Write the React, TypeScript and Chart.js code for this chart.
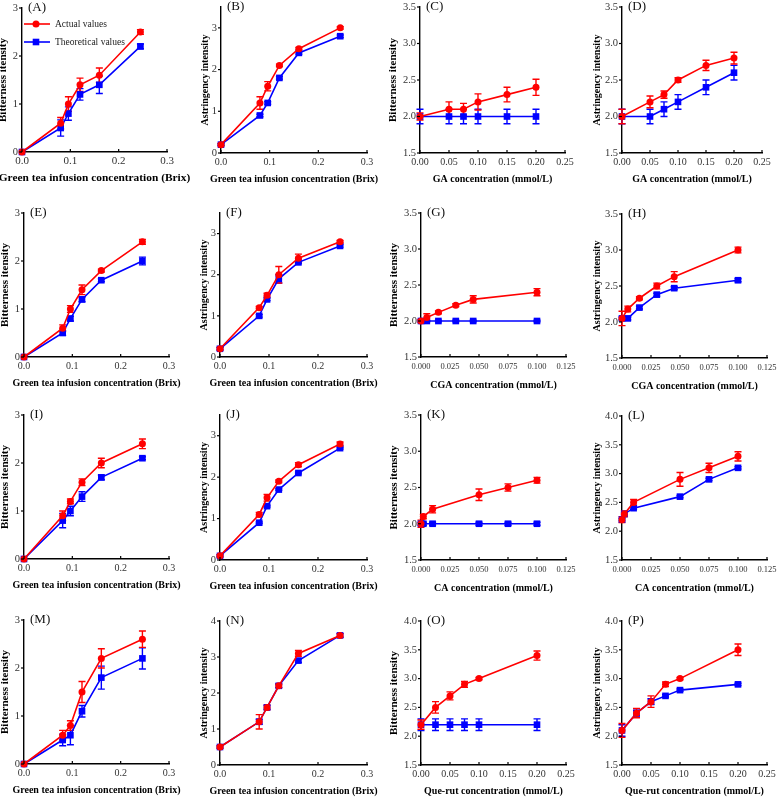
import React, { useEffect, useRef } from "react";
import { Chart, registerables } from "chart.js";

Chart.register(...registerables);

const FONT = "'Liberation Serif', 'Times New Roman', serif";
const RED = "#ff0000";
const BLUE = "#0000ff";

// ---------- x values ----------
const brixX = [0, 0.08, 0.096, 0.12, 0.16, 0.245];
const gaX = [0, 0.05, 0.075, 0.1, 0.15, 0.2];
const cgaX = [0, 0.005, 0.015, 0.03, 0.045, 0.1];
const caX = [0, 0.002, 0.01, 0.05, 0.075, 0.1];
const queRutX = [0, 0.025, 0.05, 0.075, 0.1, 0.2];

// ---------- tick values ----------
const brixTicks = [0, 0.1, 0.2, 0.3];
const mmol25Ticks = [0, 0.05, 0.1, 0.15, 0.2, 0.25];
const mmol125Ticks = [0, 0.025, 0.05, 0.075, 0.1, 0.125];
const int3Ticks = [0, 1, 2, 3];
const int4Ticks = [0, 1, 2, 3, 4];
const half35Ticks = [1.5, 2.0, 2.5, 3.0, 3.5];
const half40Ticks = [1.5, 2.0, 2.5, 3.0, 3.5, 4.0];

const legendLabels = ["Actual values", "Theoretical values"];

// ---------- series (Actual / Theoretical, with error bars) ----------
const aAct = [0, 0.6, 1.0, 1.4, 1.6, 2.5];
const aActErr = [0, 0.12, 0.15, 0.14, 0.15, 0.05];
const aTheo = [0, 0.5, 0.8, 1.2, 1.4, 2.2];
const aTheoErr = [0, 0.17, 0.14, 0.12, 0.18, 0.05];

const bAct = [0.2, 1.2, 1.6, 2.1, 2.5, 3.0];
const bActErr = [0.03, 0.15, 0.11, 0.03, 0.03, 0.03];
const bTheo = [0.2, 0.9, 1.2, 1.8, 2.4, 2.8];
const bTheoErr = [0.02, 0.03, 0.03, 0.03, 0.03, 0.03];

const cAct = [2.0, 2.1, 2.1, 2.2, 2.3, 2.4];
const cActErr = [0.05, 0.1, 0.08, 0.11, 0.1, 0.11];
const cTheo = [2.0, 2.0, 2.0, 2.0, 2.0, 2.0];
const cTheoErr = [0.1, 0.1, 0.1, 0.1, 0.1, 0.1];

const dAct = [2.0, 2.2, 2.3, 2.5, 2.7, 2.8];
const dActErr = [0.1, 0.08, 0.05, 0.03, 0.07, 0.08];
const dTheo = [2.0, 2.0, 2.1, 2.2, 2.4, 2.6];
const dTheoErr = [0.1, 0.1, 0.1, 0.1, 0.1, 0.1];

const eAct = [0, 0.6, 1.0, 1.4, 1.8, 2.4];
const eActErr = [0, 0.07, 0.07, 0.1, 0.03, 0.05];
const eTheo = [0, 0.5, 0.8, 1.2, 1.6, 2.0];
const eTheoErr = [0, 0.05, 0.05, 0.05, 0.03, 0.08];

const fAct = [0.2, 1.2, 1.5, 2.0, 2.4, 2.8];
const fActErr = [0.03, 0.03, 0.05, 0.2, 0.1, 0.03];
const fTheo = [0.2, 1.0, 1.4, 1.9, 2.3, 2.7];
const fTheoErr = [0.03, 0.03, 0.03, 0.1, 0.03, 0.03];

const gAct = [2.0, 2.05, 2.12, 2.22, 2.3, 2.4];
const gActErr = [0.02, 0.05, 0.02, 0.02, 0.05, 0.05];
const gTheo = [2.0, 2.0, 2.0, 2.0, 2.0, 2.0];
const gTheoErr = [0.01, 0.01, 0.01, 0.01, 0.01, 0.01];

const hAct = [2.05, 2.18, 2.33, 2.5, 2.63, 3.0];
const hActErr = [0.1, 0.04, 0.02, 0.04, 0.07, 0.04];
const hTheo = [2.05, 2.05, 2.2, 2.38, 2.47, 2.58];
const hTheoErr = [0.02, 0.02, 0.02, 0.02, 0.02, 0.02];

const iAct = [0, 0.9, 1.2, 1.6, 2.0, 2.4];
const iActErr = [0, 0.1, 0.05, 0.07, 0.1, 0.1];
const iTheo = [0, 0.8, 1.0, 1.3, 1.7, 2.1];
const iTheoErr = [0, 0.15, 0.1, 0.1, 0.05, 0.03];

const jAct = [0.1, 1.1, 1.5, 1.9, 2.3, 2.8];
const jActErr = [0.03, 0.05, 0.08, 0.03, 0.05, 0.05];
const jTheo = [0.1, 0.9, 1.3, 1.7, 2.1, 2.7];
const jTheoErr = [0.02, 0.02, 0.02, 0.02, 0.02, 0.02];

const kAct = [2.0, 2.1, 2.2, 2.4, 2.5, 2.6];
const kActErr = [0.05, 0.03, 0.05, 0.08, 0.05, 0.04];
const kTheo = [2.0, 2.0, 2.0, 2.0, 2.0, 2.0];
const kTheoErr = [0.02, 0.02, 0.02, 0.02, 0.02, 0.02];

const lAct = [2.2, 2.3, 2.5, 2.9, 3.1, 3.3];
const lActErr = [0.05, 0.05, 0.05, 0.12, 0.08, 0.08];
const lTheo = [2.2, 2.3, 2.4, 2.6, 2.9, 3.1];
const lTheoErr = [0.02, 0.02, 0.02, 0.02, 0.02, 0.02];

const mAct = [0, 0.6, 0.8, 1.5, 2.2, 2.6];
const mActErr = [0, 0.1, 0.1, 0.22, 0.2, 0.17];
const mTheo = [0, 0.5, 0.6, 1.1, 1.8, 2.2];
const mTheoErr = [0, 0.12, 0.2, 0.12, 0.24, 0.22];

const nAct = [0.5, 1.2, 1.6, 2.2, 3.1, 3.6];
const nActErr = [0.03, 0.2, 0.07, 0.05, 0.08, 0.05];
const nTheo = [0.5, 1.2, 1.6, 2.2, 2.9, 3.6];
const nTheoErr = [0.03, 0.07, 0.05, 0.05, 0.05, 0.05];

const oAct = [2.2, 2.5, 2.7, 2.9, 3.0, 3.4];
const oActErr = [0.08, 0.1, 0.07, 0.05, 0.02, 0.08];
const oTheo = [2.2, 2.2, 2.2, 2.2, 2.2, 2.2];
const oTheoErr = [0.1, 0.1, 0.1, 0.1, 0.1, 0.1];

const pAct = [2.1, 2.4, 2.6, 2.9, 3.0, 3.5];
const pActErr = [0.12, 0.08, 0.1, 0.04, 0.02, 0.1];
const pTheo = [2.1, 2.4, 2.6, 2.7, 2.8, 2.9];
const pTheoErr = [0.1, 0.05, 0.05, 0.02, 0.02, 0.02];

const BRIX_TITLE = "Green tea infusion concentration (Brix)";
const BIT = "Bitterness itensity";
const AST = "Astringency intensity";

type Spec = {
  label: string;
  x: number[];
  act: number[];
  actErr: number[];
  theo: number[];
  theoErr: number[];
  xMax: number;
  xTicks: number[];
  xDec: number;
  xTitle: string;
  yMin: number;
  yMax: number;
  yTicks: number[];
  yDec: number;
  yTitle: string;
};

const specs: Spec[] = [
  { label: "(A)", x: brixX, act: aAct, actErr: aActErr, theo: aTheo, theoErr: aTheoErr, xMax: 0.3, xTicks: brixTicks, xDec: 1, xTitle: BRIX_TITLE, yMin: 0, yMax: 3, yTicks: int3Ticks, yDec: 0, yTitle: BIT },
  { label: "(B)", x: brixX, act: bAct, actErr: bActErr, theo: bTheo, theoErr: bTheoErr, xMax: 0.3, xTicks: brixTicks, xDec: 1, xTitle: BRIX_TITLE, yMin: 0, yMax: 3.5, yTicks: int3Ticks, yDec: 0, yTitle: AST },
  { label: "(C)", x: gaX, act: cAct, actErr: cActErr, theo: cTheo, theoErr: cTheoErr, xMax: 0.25, xTicks: mmol25Ticks, xDec: 2, xTitle: "GA concentration (mmol/L)", yMin: 1.5, yMax: 3.5, yTicks: half35Ticks, yDec: 1, yTitle: BIT },
  { label: "(D)", x: gaX, act: dAct, actErr: dActErr, theo: dTheo, theoErr: dTheoErr, xMax: 0.25, xTicks: mmol25Ticks, xDec: 2, xTitle: "GA concentration (mmol/L)", yMin: 1.5, yMax: 3.5, yTicks: half35Ticks, yDec: 1, yTitle: AST },
  { label: "(E)", x: brixX, act: eAct, actErr: eActErr, theo: eTheo, theoErr: eTheoErr, xMax: 0.3, xTicks: brixTicks, xDec: 1, xTitle: BRIX_TITLE, yMin: 0, yMax: 3, yTicks: int3Ticks, yDec: 0, yTitle: BIT },
  { label: "(F)", x: brixX, act: fAct, actErr: fActErr, theo: fTheo, theoErr: fTheoErr, xMax: 0.3, xTicks: brixTicks, xDec: 1, xTitle: BRIX_TITLE, yMin: 0, yMax: 3.5, yTicks: int3Ticks, yDec: 0, yTitle: AST },
  { label: "(G)", x: cgaX, act: gAct, actErr: gActErr, theo: gTheo, theoErr: gTheoErr, xMax: 0.125, xTicks: mmol125Ticks, xDec: 3, xTitle: "CGA concentration (mmol/L)", yMin: 1.5, yMax: 3.5, yTicks: half35Ticks, yDec: 1, yTitle: BIT },
  { label: "(H)", x: cgaX, act: hAct, actErr: hActErr, theo: hTheo, theoErr: hTheoErr, xMax: 0.125, xTicks: mmol125Ticks, xDec: 3, xTitle: "CGA concentration (mmol/L)", yMin: 1.5, yMax: 3.5, yTicks: half35Ticks, yDec: 1, yTitle: AST },
  { label: "(I)", x: brixX, act: iAct, actErr: iActErr, theo: iTheo, theoErr: iTheoErr, xMax: 0.3, xTicks: brixTicks, xDec: 1, xTitle: BRIX_TITLE, yMin: 0, yMax: 3, yTicks: int3Ticks, yDec: 0, yTitle: BIT },
  { label: "(J)", x: brixX, act: jAct, actErr: jActErr, theo: jTheo, theoErr: jTheoErr, xMax: 0.3, xTicks: brixTicks, xDec: 1, xTitle: BRIX_TITLE, yMin: 0, yMax: 3.5, yTicks: int3Ticks, yDec: 0, yTitle: AST },
  { label: "(K)", x: caX, act: kAct, actErr: kActErr, theo: kTheo, theoErr: kTheoErr, xMax: 0.125, xTicks: mmol125Ticks, xDec: 3, xTitle: "CA concentration (mmol/L)", yMin: 1.5, yMax: 3.5, yTicks: half35Ticks, yDec: 1, yTitle: BIT },
  { label: "(L)", x: caX, act: lAct, actErr: lActErr, theo: lTheo, theoErr: lTheoErr, xMax: 0.125, xTicks: mmol125Ticks, xDec: 3, xTitle: "CA concentration (mmol/L)", yMin: 1.5, yMax: 4.0, yTicks: half40Ticks, yDec: 1, yTitle: AST },
  { label: "(M)", x: brixX, act: mAct, actErr: mActErr, theo: mTheo, theoErr: mTheoErr, xMax: 0.3, xTicks: brixTicks, xDec: 1, xTitle: BRIX_TITLE, yMin: 0, yMax: 3, yTicks: int3Ticks, yDec: 0, yTitle: BIT },
  { label: "(N)", x: brixX, act: nAct, actErr: nActErr, theo: nTheo, theoErr: nTheoErr, xMax: 0.3, xTicks: brixTicks, xDec: 1, xTitle: BRIX_TITLE, yMin: 0, yMax: 4, yTicks: int4Ticks, yDec: 0, yTitle: AST },
  { label: "(O)", x: queRutX, act: oAct, actErr: oActErr, theo: oTheo, theoErr: oTheoErr, xMax: 0.25, xTicks: mmol25Ticks, xDec: 2, xTitle: "Que-rut concentration (mmol/L)", yMin: 1.5, yMax: 4.0, yTicks: half40Ticks, yDec: 1, yTitle: BIT },
  { label: "(P)", x: queRutX, act: pAct, actErr: pActErr, theo: pTheo, theoErr: pTheoErr, xMax: 0.25, xTicks: mmol25Ticks, xDec: 2, xTitle: "Que-rut concentration (mmol/L)", yMin: 1.5, yMax: 4.0, yTicks: half40Ticks, yDec: 1, yTitle: AST },
];

// plot-area boxes [left, top, right, bottom] in page pixels (layout only)
const boxes: number[][] = [
  [22, 8, 167, 152], [221, 7, 367, 153], [420, 7, 565, 153], [622, 7, 762, 153],
  [24, 213, 169, 357], [220, 213, 367, 357], [421, 213, 566, 357], [622, 214, 767, 358],
  [24, 415, 169, 559], [220, 415, 367, 560], [421, 415, 566, 560], [622, 416, 767, 560],
  [24, 620, 169, 764], [220, 621, 367, 765], [421, 621, 566, 765], [622, 621, 767, 765],
];
const yTitleGaps = [18, 16.5, 26, 25];

const errorBarPlugin = {
  id: "errorBars",
  beforeDatasetsDraw(chart: any) {
    const ctx = chart.ctx;
    const ys = chart.scales.y;
    for (let i = chart.data.datasets.length - 1; i >= 0; i--) {
      const ds = chart.data.datasets[i];
      const meta = chart.getDatasetMeta(i);
      ctx.save();
      ctx.strokeStyle = ds.borderColor;
      ctx.lineWidth = 1.4;
      meta.data.forEach((pt: any, j: number) => {
        const e = ds.errors[j];
        if (!e) return;
        const v = ds.data[j].y;
        const y1 = ys.getPixelForValue(v + e);
        const y2 = ys.getPixelForValue(v - e);
        const x = pt.x;
        const cap = 3.5;
        ctx.beginPath();
        ctx.moveTo(x, y1);
        ctx.lineTo(x, y2);
        ctx.moveTo(x - cap, y1);
        ctx.lineTo(x + cap, y1);
        ctx.moveTo(x - cap, y2);
        ctx.lineTo(x + cap, y2);
        ctx.stroke();
      });
      ctx.restore();
    }
  },
};

function makeDecorPlugin(
  label: string,
  withLegend: boolean,
  xTitle: string,
  xTitleSize: number,
  xTitleGap: number
) {
  return {
    id: "decor",
    afterDraw(chart: any) {
      const ctx = chart.ctx;
      const { left, right, top, bottom } = chart.chartArea;
      const xs = chart.scales.x;
      const ys = chart.scales.y;
      ctx.save();
      ctx.strokeStyle = "#000";
      ctx.lineWidth = 1.2;
      // x tick marks (inward)
      xs.ticks.forEach((t: any) => {
        const px = xs.getPixelForValue(t.value);
        ctx.beginPath();
        ctx.moveTo(px, bottom);
        ctx.lineTo(px, bottom - 3);
        ctx.stroke();
      });
      // y tick marks (outward)
      ys.ticks.forEach((t: any) => {
        const py = ys.getPixelForValue(t.value);
        ctx.beginPath();
        ctx.moveTo(left - 3, py);
        ctx.lineTo(left, py);
        ctx.stroke();
      });
      // x-axis title (drawn without width compression)
      ctx.fillStyle = "#000";
      ctx.font = `bold ${xTitleSize}px ${FONT}`;
      ctx.textAlign = "center";
      ctx.textBaseline = "middle";
      ctx.fillText(xTitle, (left + right) / 2, bottom + xTitleGap);
      // panel label
      ctx.fillStyle = "#111";
      ctx.font = `13px ${FONT}`;
      ctx.textAlign = "left";
      ctx.textBaseline = "middle";
      ctx.fillText(label, left + 6, top);
      if (withLegend) {
        const colors = [RED, BLUE];
        legendLabels.forEach((txt, i) => {
          const y = top + 16 + i * 18;
          ctx.strokeStyle = colors[i];
          ctx.fillStyle = colors[i];
          ctx.lineWidth = 1.6;
          ctx.beginPath();
          ctx.moveTo(left + 2, y);
          ctx.lineTo(left + 28, y);
          ctx.stroke();
          ctx.beginPath();
          if (i === 0) {
            ctx.arc(left + 14, y, 3.5, 0, Math.PI * 2);
          } else {
            ctx.rect(left + 14 - 3.3, y - 3.3, 6.6, 6.6);
          }
          ctx.fill();
          ctx.fillStyle = "#222";
          ctx.font = `9.5px ${FONT}`;
          ctx.textAlign = "left";
          ctx.textBaseline = "middle";
          ctx.fillText(txt, left + 33, y);
        });
      }
      ctx.restore();
    },
  };
}

function Panel({ spec, box, idx }: { spec: Spec; box: number[]; idx: number }) {
  const ref = useRef<HTMLCanvasElement>(null);
  const col = idx % 4;
  const [L, T, R, B] = box;
  const xTickSize = idx === 0 ? 11 : spec.xDec === 3 ? 8.5 : 10;
  const xTitleSize = idx === 0 ? 11.4 : 10;
  const yTitleSize = spec.yTitle === BIT ? 11 : 10;
  const yTickSize = 10.5;
  const yTitleGap = yTitleGaps[col];
  const xTitleGap = spec.xDec === 3 ? 28 : 26;
  const xTickGap = 9.5;
  const padTop = 14;
  const padRight = 30;
  const canvasLeft = Math.round(L - yTitleGap - (yTitleSize * 1.2) / 2);
  const yAxisW = L - canvasLeft;
  const xAxisH = Math.round(xTitleGap + (xTitleSize * 1.2) / 2 + 2);
  const canvasTop = T - padTop;
  const W = yAxisW + (R - L) + padRight;
  const H = padTop + (B - T) + xAxisH;

  useEffect(() => {
    if (!ref.current) return;
    const mk = (vals: number[]) => spec.x.map((x, i) => ({ x, y: vals[i] }));
    const chart = new Chart(ref.current, {
      type: "line",
      data: {
        datasets: [
          {
            label: legendLabels[0],
            data: mk(spec.act),
            errors: spec.actErr,
            borderColor: RED,
            backgroundColor: RED,
            pointBackgroundColor: RED,
            pointBorderColor: RED,
            pointStyle: "circle",
            pointRadius: 3.5,
            pointBorderWidth: 0,
            borderWidth: 1.6,
            tension: 0,
            clip: false,
          } as any,
          {
            label: legendLabels[1],
            data: mk(spec.theo),
            errors: spec.theoErr,
            borderColor: BLUE,
            backgroundColor: BLUE,
            pointBackgroundColor: BLUE,
            pointBorderColor: BLUE,
            pointStyle: "rect",
            pointRadius: 4.7,
            pointBorderWidth: 0,
            borderWidth: 1.6,
            tension: 0,
            clip: false,
          } as any,
        ],
      },
      options: {
        animation: false,
        responsive: false,
        devicePixelRatio: 1,
        events: [],
        layout: { padding: { left: 0, top: padTop, right: padRight, bottom: 0 } },
        plugins: { legend: { display: false }, tooltip: { enabled: false } },
        scales: {
          x: {
            type: "linear",
            min: 0,
            max: spec.xMax,
            grid: { display: false, drawTicks: false },
            border: { display: true, color: "#000", width: 1.4 },
            ticks: {
              font: { family: FONT, size: xTickSize },
              color: "#333",
              padding: xTickGap - (xTickSize * 1.2) / 2,
              autoSkip: false,
              maxRotation: 0,
              callback: (v: any) => Number(v).toFixed(spec.xDec),
            },
            title: { display: false },
            afterBuildTicks: (s: any) => {
              s.ticks = spec.xTicks.map((v) => ({ value: v }));
            },
            afterFit: (s: any) => {
              s.height = xAxisH;
              s.paddingLeft = 0;
              s.paddingRight = 0;
            },
          },
          y: {
            type: "linear",
            min: spec.yMin,
            max: spec.yMax,
            grid: { display: false, drawTicks: false },
            border: { display: true, color: "#000", width: 1.4 },
            ticks: {
              font: { family: FONT, size: yTickSize },
              color: "#333",
              padding: 4,
              autoSkip: false,
              callback: (v: any) => Number(v).toFixed(spec.yDec),
            },
            title: {
              display: true,
              text: spec.yTitle,
              color: "#000",
              font: { family: FONT, size: yTitleSize, weight: "bold" },
              padding: 0,
            },
            afterBuildTicks: (s: any) => {
              s.ticks = spec.yTicks.map((v) => ({ value: v }));
            },
            afterFit: (s: any) => {
              s.width = yAxisW;
              s.paddingTop = 0;
              s.paddingBottom = 0;
            },
          },
        },
      } as any,
      plugins: [
        errorBarPlugin,
        makeDecorPlugin(spec.label, idx === 0, spec.xTitle, xTitleSize, xTitleGap),
      ] as any,
    });
    return () => chart.destroy();
  }, []);

  return (
    <canvas
      ref={ref}
      width={W}
      height={H}
      style={{ position: "absolute", left: canvasLeft, top: canvasTop, width: W, height: H }}
    />
  );
}

export default function App() {
  return (
    <div
      style={{
        position: "absolute",
        left: 0,
        top: 0,
        width: 778,
        height: 797,
        background: "#fff",
        overflow: "hidden",
      }}
    >
      {specs.map((s, i) => (
        <Panel key={s.label} spec={s} box={boxes[i]} idx={i} />
      ))}
    </div>
  );
}
